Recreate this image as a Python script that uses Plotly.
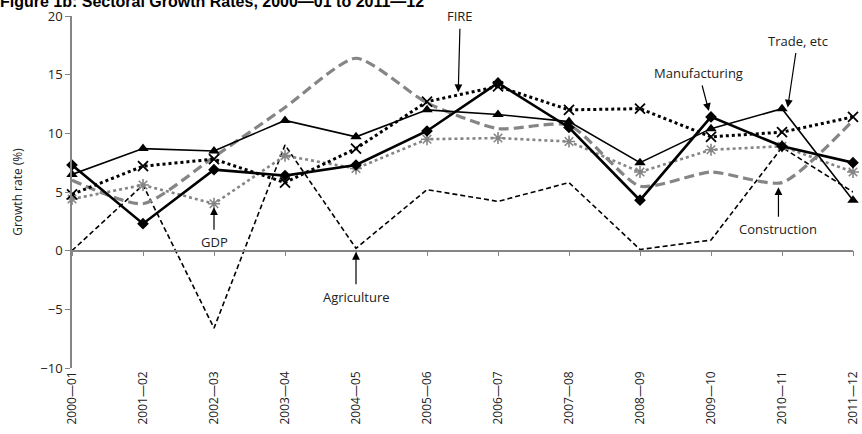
import plotly.graph_objects as go

periods = ["2000\u201401", "2001\u201402", "2002\u201403", "2003\u201404", "2004\u201405", "2005\u201406",
           "2006\u201407", "2007\u201408", "2008\u201409", "2009\u201410", "2010\u201411", "2011\u201412"]

agriculture = [0.0, 5.6, -6.6, 9.0, 0.2, 5.2, 4.2, 5.8, 0.1, 0.9, 8.8, 5.0]
gdp = [4.4, 5.6, 4.0, 8.1, 7.0, 9.5, 9.6, 9.3, 6.7, 8.6, 8.9, 6.7]
fire = [4.8, 7.2, 7.8, 5.8, 8.7, 12.7, 14.0, 12.0, 12.1, 9.7, 10.1, 11.4]
manufacturing = [7.3, 2.3, 6.9, 6.4, 7.3, 10.2, 14.3, 10.5, 4.3, 11.4, 8.9, 7.5]
trade = [6.5, 8.7, 8.5, 11.1, 9.7, 12.0, 11.6, 11.0, 7.5, 10.4, 12.1, 4.3]
construction = [6.0, 4.0, 8.0, 12.2, 16.4, 12.6, 10.4, 10.7, 5.5, 6.7, 5.8, 11.1]

title_text = "Figure 1b: Sectoral Growth Rates, 2000\u201401 to 2011\u201412"
y_title = "Growth rate (%)"
y_ticks = [-10, -5, 0, 5, 10, 15, 20]

x = list(range(len(periods)))
GREY = "#858585"
BASE_FONT = "Open Sans"

fig = go.Figure()

fig.add_trace(go.Scatter(x=x, y=agriculture, mode="lines", name="Agriculture",
                         line=dict(color="black", width=1.6, dash="5px,3px"), cliponaxis=False))
fig.add_trace(go.Scatter(x=x, y=construction, mode="lines", name="Construction",
                         line=dict(color=GREY, width=3.2, dash="10px,5px", shape="spline", smoothing=0.6),
                         cliponaxis=False))
fig.add_trace(go.Scatter(x=x, y=gdp, mode="lines+markers", name="GDP",
                         line=dict(color=GREY, width=2.6, dash="dot"),
                         marker=dict(symbol="asterisk-open", size=10, color=GREY, line=dict(width=1.6, color=GREY)),
                         cliponaxis=False))
fig.add_trace(go.Scatter(x=x, y=fire, mode="lines+markers", name="FIRE",
                         line=dict(color="black", width=3, dash="dot"),
                         marker=dict(symbol="x-thin-open", size=10, color="black", line=dict(width=1.8, color="black")),
                         cliponaxis=False))
fig.add_trace(go.Scatter(x=x, y=trade, mode="lines+markers", name="Trade, etc",
                         line=dict(color="black", width=1.6),
                         marker=dict(symbol="triangle-up", size=10, color="black"),
                         cliponaxis=False))
fig.add_trace(go.Scatter(x=x, y=manufacturing, mode="lines+markers", name="Manufacturing",
                         line=dict(color="black", width=2.6),
                         marker=dict(symbol="diamond", size=9, color="black"),
                         cliponaxis=False))

# secondary x axis drawn along the zero line (ticks only)
fig.add_trace(go.Scatter(x=[x[0], x[-1]], y=[None, None], xaxis="x2", showlegend=False, hoverinfo="skip"))

annots = [
    dict(text="FIRE", x=5.44, y=13.5, ax=2, ay=-76),
    dict(text="Manufacturing", x=8.97, y=11.9, ax=-10, ay=-38),
    dict(text="Trade, etc", x=10.08, y=12.2, ax=10, ay=-67),
    dict(text="Construction", x=9.95, y=5.4, ax=0, ay=42),
    dict(text="GDP", x=2.0, y=3.7, ax=0, ay=35),
    dict(text="Agriculture", x=4.0, y=-0.1, ax=0, ay=45),
]
for a in annots:
    fig.add_annotation(x=a["x"], y=a["y"], ax=a["ax"], ay=a["ay"], text=a["text"],
                       showarrow=True, arrowhead=2, arrowsize=1.3, arrowwidth=1.2, arrowcolor="black",
                       font=dict(family=BASE_FONT, size=13, color="#222"), standoff=0, startstandoff=2)

fig.update_layout(
    width=862, height=434,
    margin=dict(l=72, r=9, t=16, b=66, autoexpand=False),
    paper_bgcolor="white", plot_bgcolor="white",
    showlegend=False,
    title=dict(text="<b>" + title_text + "</b>", x=0.0, xanchor="left", y=0.985, yanchor="bottom",
               font=dict(family="Liberation Sans Narrow, Arial Narrow, sans-serif", size=16, color="black"),
               pad=dict(l=0, t=0, b=0), automargin=False),
    xaxis=dict(range=[0, 11], tickmode="array", tickvals=x, ticktext=periods, tickangle=-90,
               showline=False, ticks="", showgrid=False, zeroline=False, automargin=False,
               tickfont=dict(family=BASE_FONT, size=12, color="#222")),
    xaxis2=dict(range=[0, 11], overlaying="x", anchor="free", position=1/3, side="bottom",
                tickmode="array", tickvals=x, showticklabels=False, ticks="outside", ticklen=5,
                tickcolor=GREY, tickwidth=1.2, showline=True, linecolor=GREY, linewidth=1.5,
                showgrid=False, zeroline=False, automargin=False),
    yaxis=dict(range=[-10, 20], tickvals=y_ticks, ticks="outside", ticklen=5, tickcolor=GREY,
               showline=True, linecolor=GREY, linewidth=1.5, showgrid=False, zeroline=False,
               automargin=False,
               title=dict(text=y_title, font=dict(family=BASE_FONT, size=12, color="#222"), standoff=15),
               tickfont=dict(family=BASE_FONT, size=13, color="#222")),
)

fig.write_html("out.html", config={"displayModeBar": False},
               post_script="document.body.style.margin='0';document.body.style.overflow='hidden';")
